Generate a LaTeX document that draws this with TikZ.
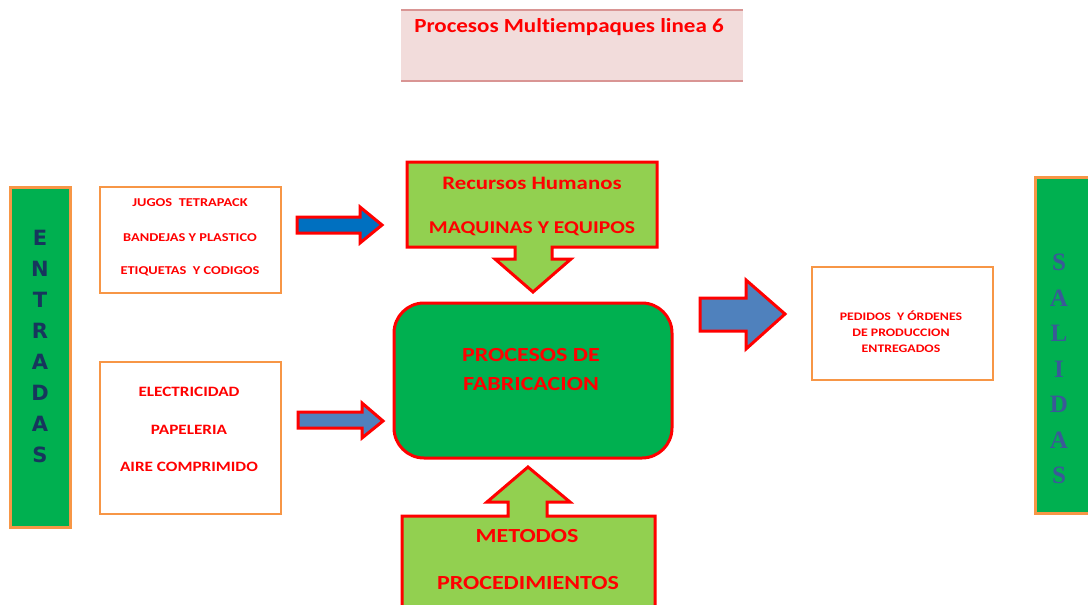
\documentclass[tikz,border=0pt]{standalone}
\usepackage{fontspec}
\setmainfont{Carlito}[Ligatures=NoCommon]
\newfontfamily\wideA{Carlito}[FakeStretch=1.2,Ligatures=NoCommon]
\newfontfamily\wideB{Carlito}[FakeStretch=1.15,Ligatures=NoCommon]
\newfontfamily\dejab{DejaVu Sans}
\newfontfamily\serifb{Liberation Serif}
\definecolor{titlefill}{HTML}{F2DCDB}
\definecolor{titleline}{HTML}{D99594}
\definecolor{bargreen}{HTML}{00B050}
\definecolor{orangeb}{HTML}{F79646}
\definecolor{navy}{HTML}{17365D}
\definecolor{steel}{HTML}{4F81BD}
\definecolor{deepblue}{HTML}{0070C0}
\definecolor{lightgreen}{HTML}{92D050}
\definecolor{salblue}{HTML}{3B5998}
\tikzset{
  bar/.style={draw=orangeb,line width=3pt,fill=bargreen},
  inbox/.style={draw=orangeb,line width=2.5pt,fill=white},
  redtxt/.style={text=red,align=center,inner sep=0pt},
  blockarrow/.style={draw=red,line width=3pt,line join=miter},
  callout/.style={draw=red,line width=3pt,fill=lightgreen,line join=miter}
}
\begin{document}
\begin{tikzpicture}[x=1pt,y=-1pt]
\useasboundingbox (0,0) rectangle (1088,605);
% title
\fill[titlefill] (401,10) rectangle (743,81);
\draw[titleline,line width=1.5pt] (401,10) -- (743,10) (401,81) -- (743,81);
\node[redtxt,font=\wideB\bfseries\fontsize{20}{22}\selectfont] (title) at (569,27) {Procesos Multiempaques linea 6};
% ENTRADAS bar
\draw[bar] (10,187) rectangle (70,527);
\node[text=navy,font=\dejab\bfseries\fontsize{21}{31}\selectfont,align=center,inner sep=0pt] (entradas) at (40,346) {E\\N\\T\\R\\A\\D\\A\\S};
% input boxes
\draw[inbox] (100,187) rectangle (281,293);
\node[redtxt,font=\wideA\bfseries\fontsize{12}{14}\selectfont] (j1) at (190,203) {JUGOS\ \ TETRAPACK};
\node[redtxt,font=\wideA\bfseries\fontsize{12}{14}\selectfont] (j2) at (190,238) {BANDEJAS Y PLASTICO};
\node[redtxt,font=\wideA\bfseries\fontsize{12}{14}\selectfont] (j3) at (190,271) {ETIQUETAS\ \ Y CODIGOS};
\draw[inbox] (100,362) rectangle (281,514);
\node[redtxt,font=\wideA\bfseries\fontsize{14.3}{16}\selectfont] (e1) at (189,392) {ELECTRICIDAD};
\node[redtxt,font=\wideA\bfseries\fontsize{14.3}{16}\selectfont] (e2) at (189,430) {PAPELERIA};
\node[redtxt,font=\wideA\bfseries\fontsize{14.3}{16}\selectfont] (e3) at (189,467) {AIRE COMPRIMIDO};
% input arrows
\draw[blockarrow,fill=deepblue] (297,217) -- (360,217) -- (360,207) -- (382,225) -- (360,243) -- (360,233) -- (297,233) -- cycle;
\draw[blockarrow,fill=steel] (298,412) -- (362,412) -- (362,403) -- (383,421) -- (362,438) -- (362,428) -- (298,428) -- cycle;
% top callout
\draw[callout] (407,162) -- (657,162) -- (657,247) -- (552,247) -- (552,259) -- (571,259) -- (533,292) -- (495,259) -- (515,259) -- (515,247) -- (407,247) -- cycle;
\node[redtxt,font=\wideA\bfseries\fontsize{19}{21}\selectfont] (rh) at (532,183) {Recursos Humanos};
\node[redtxt,font=\wideA\bfseries\fontsize{18}{20}\selectfont] (mq) at (532,229) {MAQUINAS Y EQUIPOS};
% central box
\draw[draw=red,line width=3pt,fill=bargreen,rounded corners=30pt] (394,303) rectangle (672,458);
\node[redtxt,font=\wideA\bfseries\fontsize{20}{29}\selectfont] (proc) at (531,370) {PROCESOS DE\\FABRICACION};
% bottom callout
\draw[callout] (402,608) -- (402,516) -- (508,516) -- (508,502) -- (487,502) -- (528,467) -- (570,502) -- (547,502) -- (547,516) -- (655,516) -- (655,608);
\node[redtxt,font=\wideA\bfseries\fontsize{20}{22}\selectfont] (met) at (527,536) {METODOS};
\node[redtxt,font=\wideA\bfseries\fontsize{20}{22}\selectfont] (pro) at (528,583) {PROCEDIMIENTOS};
% output arrow
\draw[blockarrow,fill=steel] (700,298) -- (746,298) -- (746,280) -- (785,314) -- (746,349) -- (746,331) -- (700,331) -- cycle;
% output box
\draw[inbox] (812,267) rectangle (993,380);
\node[redtxt,font=\wideA\bfseries\fontsize{11.5}{16}\selectfont] (out) at (901,332) {PEDIDOS\ \ Y ÓRDENES\\DE PRODUCCION\\ENTREGADOS};
% SALIDAS bar
\draw[bar] (1035,177) rectangle (1095,513);
\node[text=salblue,font=\serifb\bfseries\fontsize{25}{35.5}\selectfont,align=center,inner sep=0pt] (salidas) at (1059,369) {S\\A\\L\\I\\D\\A\\S};
\end{tikzpicture}
\end{document}
